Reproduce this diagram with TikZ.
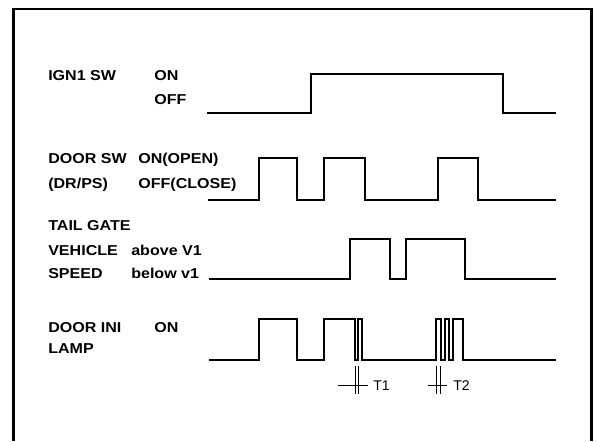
\documentclass[tikz,border=0pt]{standalone}
\usepackage{fontspec}
\newfontfamily\lblfont[FakeStretch=1.12]{Liberation Sans}
\newfontfamily\tfont{Liberation Sans}
\usetikzlibrary{positioning}
\tikzset{
  frm/.style={line width=1.8pt},
  sig/.style={line width=1.5pt},
  lbl/.style={font=\lblfont\bfseries\fontsize{10.2}{12}\selectfont,
              anchor=base west,inner sep=0pt},
  tmark/.style={line width=0.7pt},
  tlbl/.style={font=\tfont\fontsize{10}{12}\selectfont,
               anchor=base west,inner sep=0pt},
}

\begin{document}
\begin{tikzpicture}
\useasboundingbox (0,0) rectangle (14.9,11.025);

% frame, open at the bottom
\draw[frm] (0.335,0) -- (0.335,10.8) -- (14.79,10.8) -- (14.79,0);

% signal names
\node[lbl] (ignsw)   at (1.2,9.0)   {IGN1 SW};
\node[lbl] (ignon)   at (3.85,9.0)  {ON};
\node[lbl] (ignoff)  at (3.85,8.4)  {OFF};
\node[lbl] (doorsw)  at (1.2,6.925) {DOOR SW};
\node[lbl] (drps)    at (1.2,6.3)   {(DR/PS)};
\node[lbl] (dooron)  at (3.45,6.925) {ON(OPEN)};
\node[lbl] (dooroff) at (3.45,6.3)  {OFF(CLOSE)};
\node[lbl] (tail)    at (1.2,5.25)  {TAIL GATE};
\node[lbl] (veh)     at (1.2,4.65)  {VEHICLE};
\node[lbl] (speed)   at (1.2,4.05)  {SPEED};
\node[lbl] (above)   at (3.275,4.65) {above V1};
\node[lbl] (below)   at (3.275,4.05) {below v1};
\node[lbl] (lampini) at (1.2,2.725) {DOOR INI};
\node[lbl] (lampon)  at (3.85,2.725) {ON};
\node[lbl] (lamp)    at (1.2,2.2)   {LAMP};

% IGN1 SW
\draw[sig] (5.175,8.19) -| (7.78,9.18) -| (12.57,8.19) -- (13.9,8.19);

% DOOR SW (DR/PS)
\draw[sig] (5.2,6.03) -| (6.475,7.075) -| (7.425,6.03) -| (8.11,7.075)
  -| (9.125,6.03) -| (10.95,7.075) -| (11.95,6.03) -- (13.9,6.03);

% vehicle speed
\draw[sig] (5.225,4.06) -| (8.74,5.05) -| (9.74,4.06) -| (10.14,5.05)
  -| (11.63,4.06) -- (13.9,4.06);

% door ini lamp
\draw[sig] (5.225,2.025) -| (6.475,3.05) -| (7.425,2.025) -| (8.1,3.05)
  -| (8.875,2.025) -| (8.96,3.05) -| (9.06,2.025)
  -| (10.91,3.05) -| (11.02,2.025) -| (11.12,3.05) -| (11.23,2.025)
  -| (11.33,3.05) -| (11.58,2.025) -- (13.9,2.025);

% T1 / T2 marks
\draw[tmark] (8.45,1.39) -- (9.2,1.39);
\foreach \x in {8.875,8.96}
  \draw[tmark] (\x,1.175) -- (\x,1.875);
\node[tlbl] (tone) at (9.325,1.27) {T1};

\draw[tmark] (10.7,1.39) -- (11.175,1.39);
\foreach \x in {10.91,11.02}
  \draw[tmark] (\x,1.175) -- (\x,1.875);
\node[tlbl] (ttwo) at (11.325,1.27) {T2};

\end{tikzpicture}
\end{document}
